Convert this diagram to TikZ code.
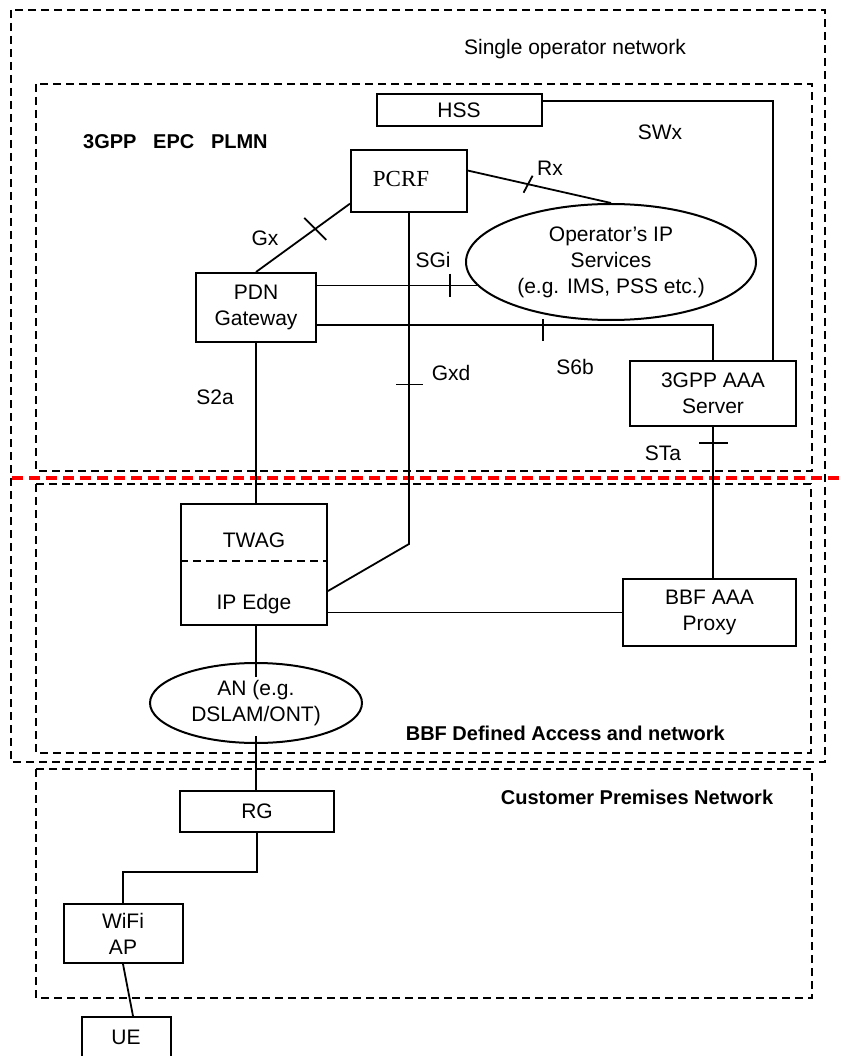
\documentclass[tikz,border=0pt]{standalone}
\usepackage{fontspec}
\setmainfont{Liberation Sans}
\newfontfamily\serifrm{Liberation Serif}
\usepackage{tikz}
\usetikzlibrary{shapes.geometric}

\begin{document}
\begin{tikzpicture}[x=1pt,y=-1pt,
    every node/.style={font=\fontsize{21}{26}\selectfont},
    box/.style={draw,line width=2pt,inner sep=0pt,align=center},
    oval/.style={draw,ellipse,line width=2pt,inner sep=0pt,align=center},
    zone/.style={line width=2.8pt,dash pattern=on 8pt off 5pt},
    link/.style={line width=1.8pt},
    iface/.style={inner sep=0pt},
    zonename/.style={inner sep=0pt,font=\fontsize{20}{24}\selectfont\bfseries}]
  \useasboundingbox (0,0) rectangle (845,1056);
  % domains
  \draw[zone] (11,10) rectangle (825,762);
  \draw[zone] (36,84) rectangle (812,471);
  \draw[zone] (36,484) rectangle (811,753);
  \draw[zone] (36,769) rectangle (812,998);
  \draw[red,line width=4pt,dash pattern=on 11pt off 6pt] (12,478)--(845,478);
  \node[iface] (son) at (575,49) {Single operator network};
  \node[zonename,anchor=west] (epc) at (83,142) {3GPP~~~EPC~~~PLMN};
  \node[zonename,anchor=east] (bbf) at (725,733) {BBF Defined Access and network};
  \node[zonename] (cpn) at (637,797) {Customer Premises Network};

  % network elements
  \node[box,minimum width=165,minimum height=32] (hss) at (459,110) {HSS};
  \node[box,minimum width=116,minimum height=62,
        font=\serifrm\fontsize{23}{26}\selectfont] (pcrf) at (409,181)
        {\raisebox{5pt}{PCRF}\hspace{16pt}};
  \node[oval,minimum width=290,minimum height=116] (ops) at (611,262)
        {Operator’s IP\\Services\\(e.g. IMS, PSS etc.)};
  \node[box,minimum width=120,minimum height=69] (pdn) at (256,307.5) {PDN\\Gateway};
  \node[box,minimum width=166,minimum height=65] (aaa) at (713,393.5) {3GPP AAA\\Server};
  \node[box,minimum width=146,minimum height=121] (twag) at (254,564.5) {};
  \node[iface] (twagtxt) at (254,540) {TWAG};
  \node[iface] (ipedge) at (254,604) {IP Edge};
  \draw[zone,line width=2.2pt] ([yshift=3.5pt]twag.west) -- ([yshift=3.5pt]twag.east);
  \node[box,minimum width=173,minimum height=67] (proxy) at (709.5,612.5) {BBF AAA\\Proxy};
  \node[oval,minimum width=212,minimum height=80] (an) at (256,703) {AN (e.g.\\DSLAM/ONT)};
  \node[box,minimum width=154,minimum height=41] (rg) at (257,811.5) {RG};
  \node[box,minimum width=119,minimum height=59] (wifi) at (123,933.5) {WiFi\\AP};
  \node[box,minimum width=89,minimum height=40] (ue) at (126,1037) {UE};

  % reference points
  \draw[link] ([yshift=9pt]hss.east) -| ([xshift=60pt]aaa.north);
  \node[iface] (swx) at (660,132) {SWx};
  \draw[link] (pcrf.10) -- coordinate[pos=0.42] (rxt) (ops.north);
  \draw[link] (rxt) ++(-4.5,8.5) -- ++(9,-17);
  \node[iface] (rx) at (550,168) {Rx};
  \draw[link] (pcrf.201) -- coordinate[pos=0.37] (gxt) (pdn.north);
  \draw[link] (gxt) ++(-11,-11) -- ++(22,22);
  \node[iface] (gx) at (265,238) {Gx};
  \draw[link] (pdn.east |- ops.190) -- coordinate[pos=0.83] (sgit) (ops.190);
  \draw[link] (sgit) ++(0,-12) -- ++(0,23);
  \node[iface] (sgi) at (433,260) {SGi};
  \draw[link] ([yshift=-17.5pt]pdn.east) -| coordinate[pos=0.285] (s6bt) (aaa.north);
  \draw[link] (s6bt) ++(0,-6) -- ++(0,22);
  \node[iface] (s6b) at (575,367) {S6b};
  \coordinate (gxdbend) at (409,544);
  \draw[link] (pcrf.south) -- coordinate[pos=0.518] (gxdt) (gxdbend)
    -- ([yshift=-26.5pt]twag.east);
  \draw[link] (gxdt) ++(-13,0) -- ++(27,0);
  \node[iface] (gxd) at (451,373) {Gxd};
  \draw[link] (pdn.south) -- (pdn.south |- twag.north);
  \node[iface] (s2a) at (215,397) {S2a};
  \draw[link] (aaa.south) -- coordinate[pos=0.105] (stat) (aaa.south |- proxy.north);
  \draw[link] (stat) ++(-14,0) -- ++(29,0);
  \node[iface] (sta) at (663,453) {STa};
  \draw[link] (proxy.west -| twag.east) -- (proxy.west);
  \draw[link] (an.north |- twag.south) -- ([yshift=-15pt]an.north);
  \draw[link] ([yshift=8pt]an.south) -- (an.south |- rg.north);
  \draw[link] (rg.south) |- ([yshift=31pt]wifi.north) -- (wifi.north);
  \draw[link] (wifi.south) -- ([xshift=7pt]ue.north);
\end{tikzpicture}
\end{document}
